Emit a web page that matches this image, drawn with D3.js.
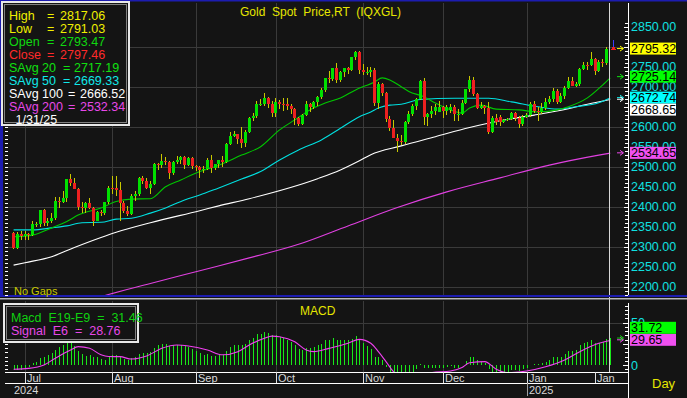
<!DOCTYPE html>
<html><head><meta charset="utf-8">
<script src="https://cdn.jsdelivr.net/npm/d3@7"></script>
<style>
html,body{margin:0;padding:0;background:#141414;overflow:hidden;}
svg{display:block;font-family:"Liberation Sans",Arial,sans-serif;}
text{white-space:pre;}
</style></head><body>
<svg id="c" width="687" height="398"></svg>
<script>
// ---------------- DATA ----------------
const firstDay = "2024-06-26", lastDay = "2025-01-31";
const opens = [2335,2298,2333,
2326,2332,2330,2356,2356,2392,2359,2364,2371,2415,2411,2422,2469,2459,2445,2400,2396,2409,2397,2364,2387,2384,2411,
2447,2446,2443,2410,2390,2382,2427,2431,2472,2465,2448,2456,2507,2504,2514,2512,2484,2512,2518,2524,2504,2521,
2503,2500,2493,2494,2516,2497,2506,2516,2512,2558,2578,2582,2569,2559,2587,2622,2628,2657,2657,2672,2658,
2634,2663,2657,2656,2653,2644,2622,2608,2630,2657,2649,2662,2674,2693,2721,2720,2748,2716,2736,2747,2743,2774,2788,
2743,2736,2736,2743,2659,2706,2685,2619,2598,2573,2565,2562,2611,2631,2651,2670,2715,2625,2633,2640,2638,
2650,2639,2643,2650,2631,2633,2660,2694,2718,2681,2648,2652,2646,2588,2622,2625,2612,2617,2620,2634,2621,2606,
2624,2630,2658,2640,2636,2648,2662,2670,2690,2662,2677,2697,2715,2703,2708,2745,2755,2754,2770,2740,2763,2760,2793.47];
const highs = [2338,2338,2339,
2339,2335,2365,2363,2392,2394,2372,2385,2424,2424,2440,2469,2483,2471,2448,2412,2412,2421,2399,2390,2393,2412,2451,
2477,2477,2462,2415,2402,2431,2440,2475,2477,2472,2464,2509,2510,2531,2525,2514,2514,2527,2528,2526,2524,2524,
2504,2501,2503,2523,2529,2507,2518,2528,2560,2586,2589,2583,2600,2593,2625,2634,2664,2670,2685,2674,2665,
2673,2666,2673,2671,2658,2646,2625,2633,2665,2659,2664,2678,2696,2722,2740,2748,2759,2739,2748,2749,2775,2790,2789,
2758,2750,2750,2748,2711,2709,2687,2626,2618,2583,2579,2614,2639,2656,2673,2716,2721,2634,2652,2656,2665,
2651,2655,2658,2655,2645,2668,2695,2726,2725,2685,2661,2655,2663,2628,2632,2630,2620,2622,2638,2637,2627,2629,
2634,2662,2665,2649,2660,2671,2677,2697,2694,2685,2703,2724,2725,2711,2746,2763,2763,2786,2773,2766,2770,2799,2817.06];
const lows = [2294,2294,2318,
2318,2318,2327,2350,2349,2353,2352,2359,2367,2396,2409,2412,2451,2444,2393,2384,2384,2394,2353,2364,2377,2380,2407,
2432,2427,2364,2385,2377,2380,2415,2428,2457,2444,2431,2454,2492,2497,2504,2470,2479,2508,2506,2495,2502,2495,
2489,2472,2484,2491,2485,2493,2496,2500,2510,2555,2575,2557,2546,2550,2584,2614,2622,2651,2652,2646,2624,
2625,2644,2640,2642,2633,2605,2603,2604,2626,2636,2645,2652,2670,2688,2709,2715,2709,2713,2725,2731,2740,2767,2731,
2730,2730,2725,2652,2644,2677,2611,2589,2572,2537,2555,2558,2606,2626,2643,2668,2605,2602,2621,2629,2636,
2622,2629,2635,2614,2614,2630,2658,2688,2677,2645,2644,2632,2583,2584,2605,2603,2609,2614,2616,2615,2597,2603,
2621,2624,2635,2614,2631,2642,2656,2663,2656,2660,2670,2695,2701,2699,2701,2742,2742,2751,2730,2737,2749,2754,2791.03];
const closes = [2298,2333,2326,
2332,2330,2356,2356,2392,2359,2364,2371,2415,2411,2422,2469,2459,2445,2400,2396,2409,2397,2364,2387,2384,2411,2447,
2446,2443,2410,2390,2382,2427,2431,2472,2465,2448,2456,2507,2504,2514,2512,2484,2512,2518,2524,2504,2521,2503,
2500,2493,2494,2516,2497,2506,2516,2512,2558,2578,2582,2569,2559,2587,2622,2628,2657,2657,2672,2658,2634,
2663,2657,2656,2653,2644,2622,2608,2630,2657,2649,2662,2674,2693,2721,2720,2748,2716,2736,2747,2743,2774,2788,2743,
2736,2736,2743,2659,2706,2685,2619,2598,2573,2565,2562,2611,2631,2651,2670,2715,2625,2633,2640,2650,2650,
2639,2650,2650,2631,2633,2660,2694,2718,2681,2648,2652,2646,2588,2622,2612,2612,2617,2620,2634,2621,2606,2624,
2630,2658,2640,2636,2648,2662,2670,2690,2662,2677,2697,2715,2703,2708,2745,2755,2754,2770,2740,2763,2760,2795,2797.46];

// moving averages: [day index, value]
const sma20 = [[0,2325],[5,2329],[10,2347],[14,2363],[17,2379],[23,2397],[27,2413],[31,2419],[36,2420],[40,2450],[44,2467],[49,2488],[53,2500],[60,2529],[65,2550],[70,2592],[74,2617],[78,2642],[82,2659],[86,2672],[90,2692],[95,2712],[97,2722],[99,2717],[102,2700],[104,2688],[108,2675],[111,2659],[115,2642],[118,2634],[120,2647],[123,2654],[127,2644],[133,2642],[138,2637],[143,2642],[146,2650],[151,2672],[155,2704],[157,2722]];
const sma50 = [[0,2342],[5,2342],[10,2347],[14,2352],[18,2360],[23,2361],[27,2369],[31,2371],[36,2384],[40,2397],[45,2417],[49,2429],[54,2447],[60,2469],[65,2488],[70,2517],[75,2542],[81,2567],[86,2596],[91,2625],[94,2637],[96,2647],[99,2654],[102,2656],[107,2668],[116,2671],[125,2671],[131,2662],[138,2650],[143,2644],[148,2650],[154,2660],[157,2672]];
const sma100 = [[0,2254],[3,2260],[10,2275],[16,2298],[23,2323],[27,2336],[36,2360],[49,2390],[54,2402],[62,2420],[80,2470],[86,2492],[91,2515],[94,2530],[102,2552],[111,2575],[120,2598],[128,2615],[137,2629],[146,2645],[151,2656],[157,2668]];
const sma200 = [[20,2166],[23,2175],[36,2208],[49,2240],[62,2272],[75,2306],[88,2352],[101,2398],[114,2437],[128,2472],[141,2504],[154,2529],[157,2534]];

const macdVals = [-6,-6,-6,
-5,-2,2,4,8,10,12,14,18,21,24,27,26,22,17,13,11,12,10,9,7,6,9,
12,12,9,7,6,8,10,13,14,14,15,20,23,25,25,22,23,24,24,22,21,19,
17,14,12,13,11,11,12,12,17,21,24,24,23,25,29,32,36,37,39,38,35,
35,33,32,30,27,23,19,18,20,20,21,23,25,29,30,32,29,29,29,29,31,34,30,
26,22,19,10,9,6,-2,-8,-14,-18,-21,-19,-15,-10,-5,1,-3,-4,-4,-4,-3,
-3,-2,-1,-3,-3,0,5,10,9,6,4,2,-5,-8,-8,-9,-9,-8,-6,-6,-7,-5,
-4,0,1,1,2,4,6,10,9,10,13,17,17,18,23,26,27,29,26,26,27,31,31.5];
const signalVals = [[0,-5],[4,-4],[8,0],[11,8],[15,17.6],[17,21.6],[20,19.6],[23,12],[25,10],[28,9.8],[31,7],[35,10.6],[39,19.6],[43,23.5],[46,22.3],[51,17.6],[55,12],[59,15.7],[62,23.5],[66,31.4],[68,34],[70,33.3],[74,27.4],[77,17.6],[79,15.7],[83,19.6],[88,25.5],[91,30.2],[94,25.5],[96,15.7],[98,4],[100,-8],[103,-16],[106,-14],[110,-9],[115,-7],[118,-3],[120,2.7],[124,4],[127,-5],[130,-9],[135,-7],[140,-2],[145,6],[149,15.7],[154,25.5],[157,28.8]];

// labels 2800 and 2650 sit fully under the value boxes in the reference
const priceTicks = [2200,2250,2300,2350,2400,2450,2500,2550,2600,2700,2750,2850];
const gridTicks = [2200,2300,2400,2500,2600,2700,2800];
const macdTicks = [0,50];
const monthMarks = [["2024-07-01","Jul"],["2024-08-01","Aug"],["2024-09-02","Sep"],["2024-10-01","Oct"],["2024-11-01","Nov"],["2024-12-02","Dec"],["2025-01-01","Jan"],["2025-01-27","Jan"]];
const yearMarks = [["2024-06-26","2024"],["2025-01-01","2025"]];

const legendRows = [
 {name:"High", mid:"", val:"2817.06", color:"#f0f000"},
 {name:"Low", mid:"", val:"2791.03", color:"#f0f000"},
 {name:"Open", mid:"", val:"2793.47", color:"#10d810"},
 {name:"Close", mid:"", val:"2797.46", color:"#ff2a2a"},
 {name:"SAvg", mid:"20", val:"2717.19", color:"#10e010"},
 {name:"SAvg", mid:"50", val:"2669.33", color:"#10e8e8"},
 {name:"SAvg", mid:"100", val:"2666.52", color:"#ffffff"},
 {name:"SAvg", mid:"200", val:"2532.34", color:"#e848e8"}
];
const legendDate = "1/31/25";
const macdLegend = [{text:"Macd  E19-E9  =  31.46", color:"#10d010"},{text:"Signal  E6  =  28.76", color:"#e848e8"}];
const lastPrice = 2795.32;
const lastBoxes = [
 {v:2795.32, bg:"#ffff00", arrow:"#ffff00"},
 {v:2725.14, bg:"#00ff00", arrow:"#10e010"},
 {v:2672.74, bg:"#00ffff", arrow:"#10e8e8"},
 {v:2668.65, bg:"#ffffff", arrow:"#ffffff"},
 {v:2534.65, bg:"#f050f0", arrow:"#e848e8"}
];
const macdBoxes = [{v:29.65, bg:"#f050f0", arrow:"#e848e8"},{v:31.72, bg:"#00ff00", arrow:"#10d010"}];

// ---------------- LAYOUT ----------------
const BG = "#141414", GRID = "#3a3a3a", BLUE = "#1c1cb0";
const main = {l:5, r:625, t:3, b:295};
const sub = {l:5, r:625, t:301, b:372};
const axisX = 628;

const parse = d3.utcParse("%Y-%m-%d");
const fmt = d3.utcFormat("%Y-%m-%d");
const days = d3.utcDays(parse(firstDay), d3.utcDay.offset(parse(lastDay),1)).filter(d => d.getUTCDay()%6 !== 0);
const dayKeys = days.map(fmt);
const idx = k => dayKeys.indexOf(k);
const N = days.length;

const x = d3.scaleLinear().domain([0, N-1]).range([13.6, 610.2]);
const y = d3.scaleLinear().domain([2200, 2850]).range([286.7, 26.7]);
const ym = d3.scaleLinear().domain([0, 50]).range([365, 322.5]);

const svg = d3.select("#c");
svg.append("rect").attr("width",687).attr("height",398).attr("fill",BG);

const defs = svg.append("defs");
defs.append("clipPath").attr("id","cm").append("rect").attr("x",main.l).attr("y",main.t).attr("width",main.r-main.l).attr("height",main.b-main.t);
defs.append("clipPath").attr("id","cs").append("rect").attr("x",sub.l).attr("y",sub.t).attr("width",sub.r-sub.l).attr("height",sub.b-sub.t);

// grid
const g = svg.append("g").attr("shape-rendering","crispEdges");
g.selectAll(".hg").data(gridTicks).join("line")
  .attr("x1",main.l).attr("x2",main.r).attr("y1",d=>Math.round(y(d))+0.5).attr("y2",d=>Math.round(y(d))+0.5)
  .attr("stroke",GRID);
g.selectAll(".hgm").data([50]).join("line")
  .attr("x1",sub.l).attr("x2",sub.r).attr("y1",d=>Math.round(ym(d))+0.5).attr("y2",d=>Math.round(ym(d))+0.5)
  .attr("stroke",GRID);
monthMarks.slice(0,7).forEach(m => {
  const xx = Math.round(x(idx(m[0])))+0.5;
  g.append("line").attr("x1",xx).attr("x2",xx).attr("y1",main.t).attr("y2",main.b).attr("stroke",GRID);
  g.append("line").attr("x1",xx).attr("x2",xx).attr("y1",sub.t).attr("y2",sub.b).attr("stroke",GRID);
});

// moving averages
const maLine = d3.line().x(d=>x(d[0])).y(d=>y(d[1])).curve(d3.curveMonotoneX);
const mg = svg.append("g").attr("clip-path","url(#cm)").attr("fill","none").attr("stroke-width",1.1);
mg.append("path").attr("d",maLine(sma200)).attr("stroke","#e040e0");
mg.append("path").attr("d",maLine(sma100)).attr("stroke","#ffffff");
mg.append("path").attr("d",maLine(sma50)).attr("stroke","#00e0e0");
mg.append("path").attr("d",maLine(sma20)).attr("stroke","#00c800");

// candles (all but the live bar)
const cg = svg.append("g").attr("clip-path","url(#cm)").attr("shape-rendering","crispEdges");
const candles = d3.range(N-1).map(i => ({i, o:opens[i], h:highs[i], l:lows[i], c:closes[i]}));
const cxp = d => Math.round(x(d.i)-1.5);
cg.selectAll(".wk").data(candles).join("line")
  .attr("x1",d=>cxp(d)+1.5).attr("x2",d=>cxp(d)+1.5)
  .attr("y1",d=>y(d.h)).attr("y2",d=>y(d.l)).attr("stroke","#c8c800");
cg.selectAll(".bd").data(candles).join("rect")
  .attr("x",cxp).attr("width",3)
  .attr("y",d=>y(Math.max(d.o,d.c)))
  .attr("height",d=>Math.max(1, Math.abs(y(d.o)-y(d.c))))
  .attr("fill",d=>d.c>=d.o ? "#00e000" : "#ee2020");

// MACD
const sg = svg.append("g").attr("clip-path","url(#cs)");
sg.append("g").attr("shape-rendering","crispEdges").selectAll("rect").data(macdVals.map((v,i)=>({i,v}))).join("rect")
  .attr("x",d=>Math.round(x(d.i))).attr("width",1)
  .attr("y",d=>Math.min(ym(0),ym(d.v))).attr("height",d=>Math.abs(ym(d.v)-ym(0)))
  .attr("fill","#18e818");
sg.append("path").attr("d", d3.line().x(d=>x(d[0])).y(d=>ym(d[1])).curve(d3.curveMonotoneX)(signalVals))
  .attr("fill","none").attr("stroke","#f040f0").attr("stroke-width",1.1);

// cursor line
const cx = Math.round(x(N-1))-0.5;
svg.append("line").attr("x1",cx).attr("x2",cx).attr("y1",main.t).attr("y2",sub.b).attr("stroke","#d8d8d8").attr("stroke-width",1);

// live (last) bar, drawn just right of the cursor
const lx = Math.round(x(N-1)) + 3.5;
const live = svg.append("g").attr("shape-rendering","crispEdges");
live.append("line").attr("x1",lx).attr("x2",lx).attr("y1",y(highs[N-1])).attr("y2",y(Math.max(opens[N-1],closes[N-1]))).attr("stroke","#3c3cff");
live.append("line").attr("x1",lx).attr("x2",lx).attr("y1",y(Math.min(opens[N-1],closes[N-1]))).attr("y2",y(lows[N-1])).attr("stroke","#c8c800");
live.append("rect").attr("x",lx-1.5).attr("y",y(closes[N-1])-1).attr("width",3).attr("height",Math.max(2,y(opens[N-1])-y(closes[N-1]))).attr("fill","#ee2020");
live.append("line").attr("x1",lx-2.5).attr("x2",lx+2.5).attr("y1",Math.round(y(lastPrice))+0.5).attr("y2",Math.round(y(lastPrice))+0.5).attr("stroke","#ee2020");

// frames
svg.append("rect").attr("x",0).attr("y",0).attr("width",687).attr("height",1.5).attr("fill",BLUE);
svg.append("rect").attr("x",0).attr("y",0).attr("width",3).attr("height",297).attr("fill",BLUE);
svg.append("rect").attr("x",0).attr("y",295).attr("width",687).attr("height",2).attr("fill",BLUE);
svg.append("rect").attr("x",0).attr("y",298).attr("width",687).attr("height",1.5).attr("fill","#b8b8b8");

// right axis
const ax = svg.append("g").attr("shape-rendering","crispEdges");
ax.append("line").attr("x1",axisX+0.5).attr("x2",axisX+0.5).attr("y1",main.t).attr("y2",main.b).attr("stroke","#ffffff");
ax.append("line").attr("x1",axisX+0.5).attr("x2",axisX+0.5).attr("y1",sub.t+2).attr("y2",398).attr("stroke","#ffffff");
const minor = d3.range(2180, 2870, 10).filter(v=>y(v)>main.t&&y(v)<main.b);
ax.selectAll(".mt").data(minor).join("line")
  .attr("x1",d=>d%50===0?axisX-4:axisX-3).attr("x2",axisX).attr("y1",d=>Math.round(y(d))+0.5).attr("y2",d=>Math.round(y(d))+0.5).attr("stroke","#ffffff");
ax.selectAll(".lt").data(minor).join("line")
  .attr("x1",main.l).attr("x2",main.l+3).attr("y1",d=>Math.round(y(d))+0.5).attr("y2",d=>Math.round(y(d))+0.5).attr("stroke","#ffffff");
const mminor = d3.range(-5, 80, 5).filter(v=>ym(v)>sub.t+3&&ym(v)<sub.b-1);
ax.selectAll(".mm").data(mminor).join("line")
  .attr("x1",d=>d%25===0?axisX-5:axisX-3).attr("x2",axisX).attr("y1",d=>Math.round(ym(d))+0.5).attr("y2",d=>Math.round(ym(d))+0.5).attr("stroke","#ffffff");
ax.selectAll(".ml").data(mminor).join("line")
  .attr("x1",main.l).attr("x2",main.l+3).attr("y1",d=>Math.round(ym(d))+0.5).attr("y2",d=>Math.round(ym(d))+0.5).attr("stroke","#ffffff");

svg.append("g").selectAll("text").data(priceTicks).join("text")
  .attr("x",631).attr("y",d=>y(d)).attr("dy","0.36em").attr("font-size",12.5).attr("fill","#10e0e0")
  .text(d=>d3.format(".2f")(d));
svg.append("g").selectAll("text").data(macdTicks).join("text")
  .attr("x",631).attr("y",d=>ym(d)).attr("dy","0.36em").attr("font-size",12.5).attr("fill","#10e0e0")
  .text(d=>d);

// value boxes (main)
let prev = -1e9;
lastBoxes.slice().sort((a,b)=>b.v-a.v).forEach(b => {
  let yy = y(b.v); if (yy < prev + 12) yy = prev + 12; prev = yy; b.yy = yy;
});
const bx = svg.append("g");
lastBoxes.forEach(b => {
  bx.append("rect").attr("x",630).attr("y",b.yy-6).attr("width",46).attr("height",12).attr("fill",b.bg);
  bx.append("text").attr("x",631).attr("y",b.yy).attr("dy","0.36em").attr("font-size",12.5).attr("fill","#000").text(d3.format(".2f")(b.v));
  const ay = y(b.v);
  bx.append("path").attr("d",`M617,${ay}H623M620,${ay-2.5}L623.5,${ay}L620,${ay+2.5}`).attr("stroke",b.arrow).attr("fill","none").attr("stroke-width",1);
});
prev = 1e9;
macdBoxes.slice().sort((a,b)=>a.v-b.v).forEach(b => {
  let yy = ym(b.v); if (yy > prev - 12) yy = prev - 12; prev = yy; b.yy = yy;
});
macdBoxes.forEach(b => {
  bx.append("rect").attr("x",630).attr("y",b.yy-6).attr("width",46).attr("height",12).attr("fill",b.bg);
  bx.append("text").attr("x",631).attr("y",b.yy).attr("dy","0.36em").attr("font-size",12.5).attr("fill","#000").text(d3.format(".2f")(b.v));
  const ay = ym(b.v);
  bx.append("path").attr("d",`M617,${ay}H623M620,${ay-2.5}L623.5,${ay}L620,${ay+2.5}`).attr("stroke",b.arrow).attr("fill","none");
});

// x axis
const xa = svg.append("g").attr("shape-rendering","crispEdges");
xa.append("line").attr("x1",main.l).attr("x2",axisX).attr("y1",372.5).attr("y2",372.5).attr("stroke","#ffffff");
xa.append("line").attr("x1",main.l).attr("x2",axisX).attr("y1",383.5).attr("y2",383.5).attr("stroke","#ffffff");
monthMarks.forEach(m => {
  const xx = Math.round(x(idx(m[0])))+0.5;
  xa.append("line").attr("x1",xx).attr("x2",xx).attr("y1",372).attr("y2",383).attr("stroke","#e0e0e0");
  svg.append("text").attr("x",xx+1.5).attr("y",381.5).attr("font-size",11).attr("fill","#d8d8d8").text(m[1]);
});
yearMarks.forEach((m,k) => {
  const xx = Math.round(x(idx(m[0])))+0.5;
  if (k>0) xa.append("line").attr("x1",xx).attr("x2",xx).attr("y1",383).attr("y2",396).attr("stroke","#a0a0a0");
  svg.append("text").attr("x",k===0?14:xx+1.5).attr("y",394).attr("font-size",11).attr("fill","#d8d8d8").text(m[1]);
});
svg.append("text").attr("x",652).attr("y",388).attr("font-size",13).attr("fill","#e6e600").text("Day");

// titles
svg.append("text").attr("x",240).attr("y",15.5).attr("font-size",12).attr("fill","#e6e600").text("Gold  Spot  Price,RT  (IQXGL)");
svg.append("text").attr("x",300).attr("y",315).attr("font-size",12).attr("fill","#e6e600").text("MACD");
svg.append("text").attr("x",14).attr("y",295).attr("font-size",11).attr("fill","#c8c800").text("No Gaps");

// legend main
const lg = svg.append("g");
lg.append("rect").attr("x",2).attr("y",2).attr("width",127).attr("height",123).attr("fill",BG).attr("stroke","#e8e8e8").attr("stroke-width",2);
lg.append("rect").attr("x",4.5).attr("y",4.5).attr("width",122).attr("height",118).attr("fill","none").attr("stroke","#808080").attr("stroke-width",1);
legendRows.forEach((r,k) => {
  const yy = 20 + k*13;
  if (r.mid === "") {
    lg.append("text").attr("x",9).attr("y",yy).attr("font-size",12.5).attr("fill",r.color).text(r.name);
    lg.append("text").attr("x",47).attr("y",yy).attr("font-size",12.5).attr("fill",r.color).text("=");
    lg.append("text").attr("x",60).attr("y",yy).attr("font-size",12.5).attr("fill",r.color).text(r.val);
  } else {
    const wide = r.mid.length > 2;
    lg.append("text").attr("x",9).attr("y",yy).attr("font-size",12.5).attr("fill",r.color).text(r.name);
    lg.append("text").attr("x",42).attr("y",yy).attr("font-size",12.5).attr("fill",r.color).text(r.mid);
    lg.append("text").attr("x",wide?68:63).attr("y",yy).attr("font-size",12.5).attr("fill",r.color).text("=");
    lg.append("text").attr("x",wide?80:74).attr("y",yy).attr("font-size",12.5).attr("fill",r.color).text(r.val);
  }
});
lg.append("text").attr("x",15.5).attr("y",124).attr("font-size",12.5).attr("fill","#ffffff").text(legendDate);

// legend macd
const ml = svg.append("g");
ml.append("rect").attr("x",4).attr("y",304).attr("width",134).attr("height",38).attr("fill",BG).attr("stroke","#e8e8e8").attr("stroke-width",2);
ml.append("rect").attr("x",6.5).attr("y",306.5).attr("width",129).attr("height",33).attr("fill","none").attr("stroke","#808080");
macdLegend.forEach((r,k) => {
  ml.append("text").attr("x",11).attr("y",322 + k*12.5).attr("font-size",12.5).attr("fill",r.color).text(r.text);
});
</script>
</body></html>
